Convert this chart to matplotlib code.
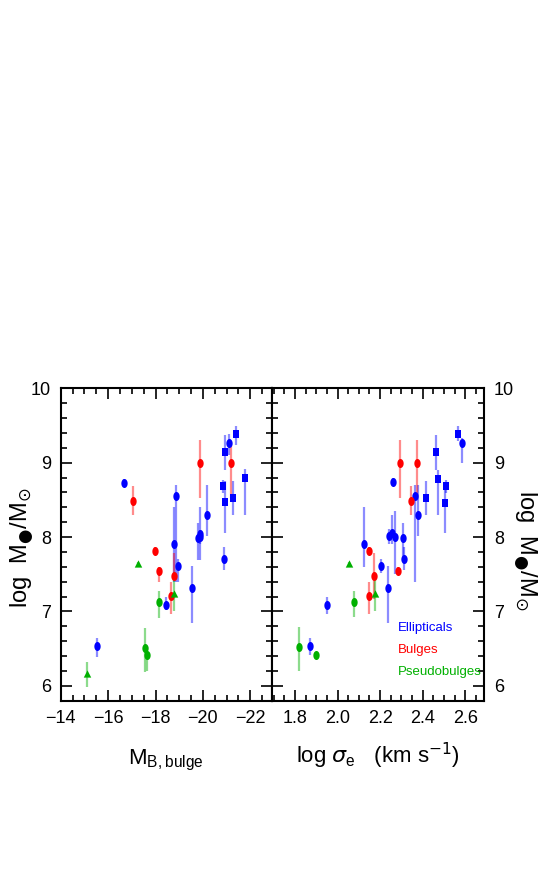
import matplotlib
matplotlib.use('Agg')
import matplotlib.pyplot as plt
import numpy as np
from matplotlib.path import Path
from matplotlib.ticker import MultipleLocator

plt.rcParams['font.family'] = ['Liberation Sans Narrow', 'Liberation Sans', 'DejaVu Sans']
plt.rcParams['mathtext.fontset'] = 'dejavusans'

BLUE = '#0000ff'
RED = '#ff0000'
GREEN = '#00b000'

# ---- left panel: M_B,bulge vs log M_BH  (x, y, err_lo, err_hi)
ell_mb = [-16.65, -18.88, -21.12, -20.17, -19.78, -19.86, -19.89, -18.76, -18.93, -20.90, -19.54, -18.45, -15.52]
ell_mb_y = [8.73, 8.55, 9.26, 8.30, 7.99, 8.04, 8.00, 7.90, 7.61, 7.70, 7.31, 7.09, 6.54]
ell_mb_lo = [0.05, 1.15, 0.15, 0.29, 0.30, 0.35, 0.10, 0.50, 0.21, 0.14, 0.46, 0.07, 0.15]
ell_mb_hi = [0.05, 0.15, 0.12, 0.40, 0.20, 0.37, 0.10, 0.51, 0.10, 0.17, 0.30, 0.11, 0.10]

sq_mb = [-20.93, -21.38, -21.78, -20.86, -20.93, -21.28]
sq_mb_y = [9.14, 9.39, 8.79, 8.69, 8.47, 8.52]
sq_mb_lo = [0.24, 0.15, 0.49, 0.10, 0.41, 0.22]
sq_mb_hi = [0.23, 0.10, 0.12, 0.08, 0.28, 0.24]

bul_mb = [-19.86, -21.17, -17.03, -17.96, -18.14, -18.80, -18.65]
bul_mb_y = [9.00, 9.00, 8.48, 7.81, 7.55, 7.48, 7.21]
bul_mb_lo = [0.48, 0.48, 0.18, 0.05, 0.15, 0.05, 0.25]
bul_mb_hi = [0.31, 0.22, 0.20, 0.05, 0.05, 0.31, 0.19]

ptri_mb = [-17.27, -18.80, -15.13]
ptri_mb_y = [7.64, 7.23, 6.16]
ptri_mb_lo = [0.03, 0.23, 0.18]
ptri_mb_hi = [0.03, 0.26, 0.16]

pcir_mb = [-18.14, -17.55, -17.63]
pcir_mb_y = [7.12, 6.51, 6.42]
pcir_mb_lo = [0.21, 0.32, 0.22]
pcir_mb_hi = [0.15, 0.27, 0.10]

# ---- right panel: log sigma_e vs log M_BH
ell_s = [2.584, 2.260, 2.363, 2.377, 2.244, 2.255, 2.272, 2.308, 2.123, 2.314, 2.203, 2.238, 1.949, 1.871]
ell_s_y = [9.26, 8.74, 8.55, 8.30, 8.01, 8.05, 8.00, 7.99, 7.90, 7.70, 7.61, 7.31, 7.09, 6.54]
ell_s_lo = [0.26, 0.05, 1.15, 0.29, 0.10, 0.15, 0.50, 0.30, 0.30, 0.14, 0.10, 0.46, 0.12, 0.12]
ell_s_hi = [0.07, 0.05, 0.15, 0.40, 0.10, 0.25, 0.35, 0.20, 0.50, 0.17, 0.10, 0.30, 0.11, 0.10]

sq_s = [2.567, 2.465, 2.470, 2.511, 2.505, 2.418]
sq_s_y = [9.39, 9.14, 8.78, 8.69, 8.46, 8.52]
sq_s_lo = [0.10, 0.24, 0.49, 0.10, 0.40, 0.22]
sq_s_hi = [0.10, 0.23, 0.12, 0.08, 0.28, 0.24]

bul_s = [2.294, 2.374, 2.344, 2.150, 2.285, 2.169, 2.148]
bul_s_y = [9.00, 9.00, 8.48, 7.81, 7.55, 7.48, 7.21]
bul_s_lo = [0.48, 0.48, 0.18, 0.05, 0.05, 0.31, 0.24]
bul_s_hi = [0.31, 0.31, 0.20, 0.05, 0.05, 0.31, 0.19]

ptri_s = [2.054, 2.175]
ptri_s_y = [7.64, 7.24]
ptri_s_lo = [0.03, 0.24]
ptri_s_hi = [0.03, 0.25]

pcir_s = [2.079, 1.820, 1.899]
pcir_s_y = [7.12, 6.52, 6.42]
pcir_s_lo = [0.20, 0.32, 0.03]
pcir_s_hi = [0.15, 0.27, 0.03]

legend_names = ['Ellipticals', 'Bulges', 'Pseudobulges']
legend_colors = [BLUE, RED, GREEN]

# slightly tall markers like the stretched original
t = np.linspace(0, 2 * np.pi, 40)
oval = Path(np.column_stack([0.7 * np.cos(t), np.sin(t)]), closed=True)
box = Path([(-0.75, -1), (0.75, -1), (0.75, 1), (-0.75, 1), (-0.75, -1)], closed=True)
tri = Path([(-0.9, -0.75), (0.9, -0.75), (0, 1), (-0.9, -0.75)], closed=True)


def plot_set(ax, x, y, lo, hi, color, marker, ms):
    ax.errorbar(x, y, yerr=[lo, hi], fmt='none', ecolor=color, alpha=0.45,
                elinewidth=1.6, capsize=0, zorder=2)
    ax.plot(x, y, linestyle='none', marker=marker, color=color, markersize=ms,
            markeredgewidth=0, zorder=3)


fig = plt.figure(figsize=(5.59, 8.85), dpi=100)
ax1 = fig.add_axes([0.1086, 0.2083, 0.3774, 0.3529])
ax2 = fig.add_axes([0.4860, 0.2083, 0.3804, 0.3529])

plot_set(ax1, ell_mb, ell_mb_y, ell_mb_lo, ell_mb_hi, BLUE, oval, 6.5)
plot_set(ax1, sq_mb, sq_mb_y, sq_mb_lo, sq_mb_hi, BLUE, box, 5.5)
plot_set(ax1, bul_mb, bul_mb_y, bul_mb_lo, bul_mb_hi, RED, oval, 6.5)
plot_set(ax1, ptri_mb, ptri_mb_y, ptri_mb_lo, ptri_mb_hi, GREEN, tri, 6)
plot_set(ax1, pcir_mb, pcir_mb_y, pcir_mb_lo, pcir_mb_hi, GREEN, oval, 6.5)

plot_set(ax2, ell_s, ell_s_y, ell_s_lo, ell_s_hi, BLUE, oval, 6.5)
plot_set(ax2, sq_s, sq_s_y, sq_s_lo, sq_s_hi, BLUE, box, 5.5)
plot_set(ax2, bul_s, bul_s_y, bul_s_lo, bul_s_hi, RED, oval, 6.5)
plot_set(ax2, ptri_s, ptri_s_y, ptri_s_lo, ptri_s_hi, GREEN, tri, 6)
plot_set(ax2, pcir_s, pcir_s_y, pcir_s_lo, pcir_s_hi, GREEN, oval, 6.5)

ax1.set_xlim(-14, -22.9)
ax2.set_xlim(1.69, 2.69)
for ax in (ax1, ax2):
    ax.set_ylim(5.8, 10)
    ax.yaxis.set_major_locator(MultipleLocator(1))
    ax.yaxis.set_minor_locator(MultipleLocator(0.2))
    ax.tick_params(which='both', direction='in', top=True, right=True, left=True,
                   bottom=True, width=1.2, labelsize=13, pad=7)
    ax.tick_params(which='major', length=8)
    ax.tick_params(which='minor', length=4.5)
    for s in ax.spines.values():
        s.set_linewidth(1.5)

ax1.xaxis.set_major_locator(MultipleLocator(2))
ax1.xaxis.set_minor_locator(MultipleLocator(0.5))
ax2.xaxis.set_major_locator(MultipleLocator(0.2))
ax2.xaxis.set_minor_locator(MultipleLocator(0.05))
ax2.xaxis.set_major_formatter(matplotlib.ticker.FormatStrFormatter('%.1f'))
ax2.tick_params(axis='y', labelleft=False, labelright=True)

ylab = 'log  M$_{\u25cf}$/M$_{\u2299}$'
ax1.set_ylabel(ylab, fontsize=17, va='center')
ax1.yaxis.set_label_coords(-0.183, 0.49)
ax2.yaxis.set_label_position('right')
ax2.set_ylabel(ylab, fontsize=17, rotation=-90, va='center')
ax2.yaxis.set_label_coords(1.19, 0.48)
ax1.set_xlabel('M$_{\\mathregular{B,bulge}}$', fontsize=16, labelpad=15)
ax2.set_xlabel('log $\\sigma_{\\mathregular{e}}$   (km s$^{-1}$)', fontsize=16, labelpad=10)

legend_y = [0.233, 0.162, 0.092]
for name, col, yy in zip(legend_names, legend_colors, legend_y):
    ax2.text(0.594, yy, name, color=col, fontsize=9.5,
             transform=ax2.transAxes, va='center', ha='left')

fig.savefig('out.png', dpi=100)
